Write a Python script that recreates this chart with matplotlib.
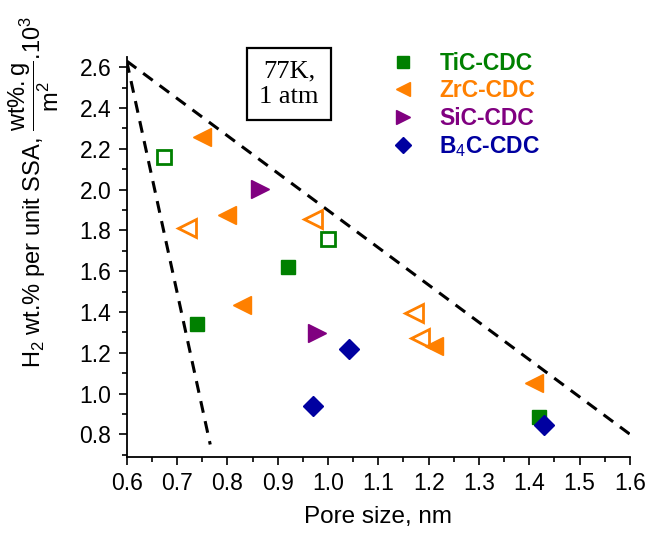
import matplotlib
matplotlib.use('Agg')
import matplotlib.pyplot as plt
from matplotlib.lines import Line2D
from matplotlib.ticker import MultipleLocator

plt.rcParams['font.family'] = ['Liberation Sans', 'DejaVu Sans']
plt.rcParams['mathtext.fontset'] = 'custom'
plt.rcParams['mathtext.rm'] = 'Liberation Sans'
plt.rcParams['mathtext.it'] = 'Liberation Sans:italic'

# pore size (nm) vs H2 uptake per unit SSA
tic_filled_x = [0.92, 0.74, 1.42]
tic_filled_y = [1.62, 1.34, 0.885]
tic_open_x = [0.674, 1.0]
tic_open_y = [2.16, 1.757]

zrc_filled_x = [0.75, 0.80, 0.83, 1.21, 1.41]
zrc_filled_y = [2.26, 1.876, 1.432, 1.235, 1.05]
zrc_open_x = [0.72, 0.97, 1.17, 1.183]
zrc_open_y = [1.81, 1.855, 1.394, 1.272]

sic_x = [0.865, 0.978]
sic_y = [2.003, 1.296]

b4c_x = [1.041, 0.971, 1.43]
b4c_y = [1.219, 0.941, 0.847]

# dashed guide lines
upper_line_x = [0.6, 1.6]
upper_line_y = [2.63, 0.80]
lower_line_x = [0.6, 0.766]
lower_line_y = [2.63, 0.75]

series_labels = ['TiC-CDC', 'ZrC-CDC', 'SiC-CDC', r'B$_4$C-CDC']
series_colors = ['#008000', '#FF8000', '#800080', '#0000A0']

fig = plt.figure(figsize=(6.49, 5.33), dpi=100)
ax = fig.add_axes([0.1952, 0.1431, 0.7755, 0.7500])

dash = dict(color='black', lw=2.2, linestyle=(0, (3.9, 2.8)), zorder=1)
ax.plot(upper_line_x, upper_line_y, **dash)
ax.plot(lower_line_x, lower_line_y, **dash)

green, orange, purple, blue = series_colors
ax.plot(tic_filled_x, tic_filled_y, 's', ms=10, color=green, mec=green, ls='none')
ax.plot(tic_open_x, tic_open_y, 's', ms=10, mfc='none', mec=green, mew=2, ls='none')
ax.plot(zrc_filled_x, zrc_filled_y, '<', ms=13.5, color=orange, mec=orange, ls='none')
ax.plot(zrc_open_x, zrc_open_y, '<', ms=12.5, mfc='none', mec=orange, mew=2, ls='none')
ax.plot(sic_x, sic_y, '>', ms=13.5, color=purple, mec=purple, ls='none')
ax.plot(b4c_x, b4c_y, 'D', ms=10.5, color=blue, mec=blue, ls='none')

ax.set_xlim(0.6, 1.6)
ax.set_ylim(0.69, 2.65)
ax.xaxis.set_major_locator(MultipleLocator(0.1))
ax.xaxis.set_minor_locator(MultipleLocator(0.05))
ax.yaxis.set_major_locator(MultipleLocator(0.2))
ax.yaxis.set_minor_locator(MultipleLocator(0.1))
ax.xaxis.set_major_formatter(lambda v, p: f'{v:.1f}')
ax.yaxis.set_major_formatter(lambda v, p: f'{v:.1f}')

for side in ['top', 'right']:
    ax.spines[side].set_visible(False)
for side in ['left', 'bottom']:
    ax.spines[side].set_linewidth(1.3)
ax.tick_params(which='major', direction='out', length=6, width=1.2,
               labelsize=16.5, pad=5, color='black')
ax.tick_params(which='minor', direction='out', length=3.5, width=1.2)

ax.set_xlabel('Pore size, nm', fontsize=17.5, labelpad=8)
fig.text(0.052, 0.64,
         r'H$_2$ wt.% per unit SSA, $\dfrac{\mathrm{wt\%.g}}{\mathrm{m^2}}$.10$^3$',
         rotation=90, ha='center', va='center', fontsize=17)

ax.text(0.3225, 0.9325, '77K,\n1 atm', transform=ax.transAxes,
        ha='center', va='center', fontsize=19, family='Liberation Serif',
        linespacing=1.2,
        bbox=dict(boxstyle='square,pad=0.45', fc='white', ec='black', lw=1.6))

handles = [
    Line2D([], [], marker='s', ms=8, color=green, ls='none'),
    Line2D([], [], marker='<', ms=10, color=orange, ls='none'),
    Line2D([], [], marker='>', ms=10, color=purple, ls='none'),
    Line2D([], [], marker='D', ms=8, color=blue, ls='none'),
]
leg = ax.legend(handles, series_labels, loc='upper left',
                bbox_to_anchor=(0.48, 1.042), frameon=False,
                prop=dict(size=16.5, weight='bold'), labelcolor=series_colors,
                handletextpad=0.6, labelspacing=0.2, borderpad=0)

fig.savefig('out.png', dpi=100)
